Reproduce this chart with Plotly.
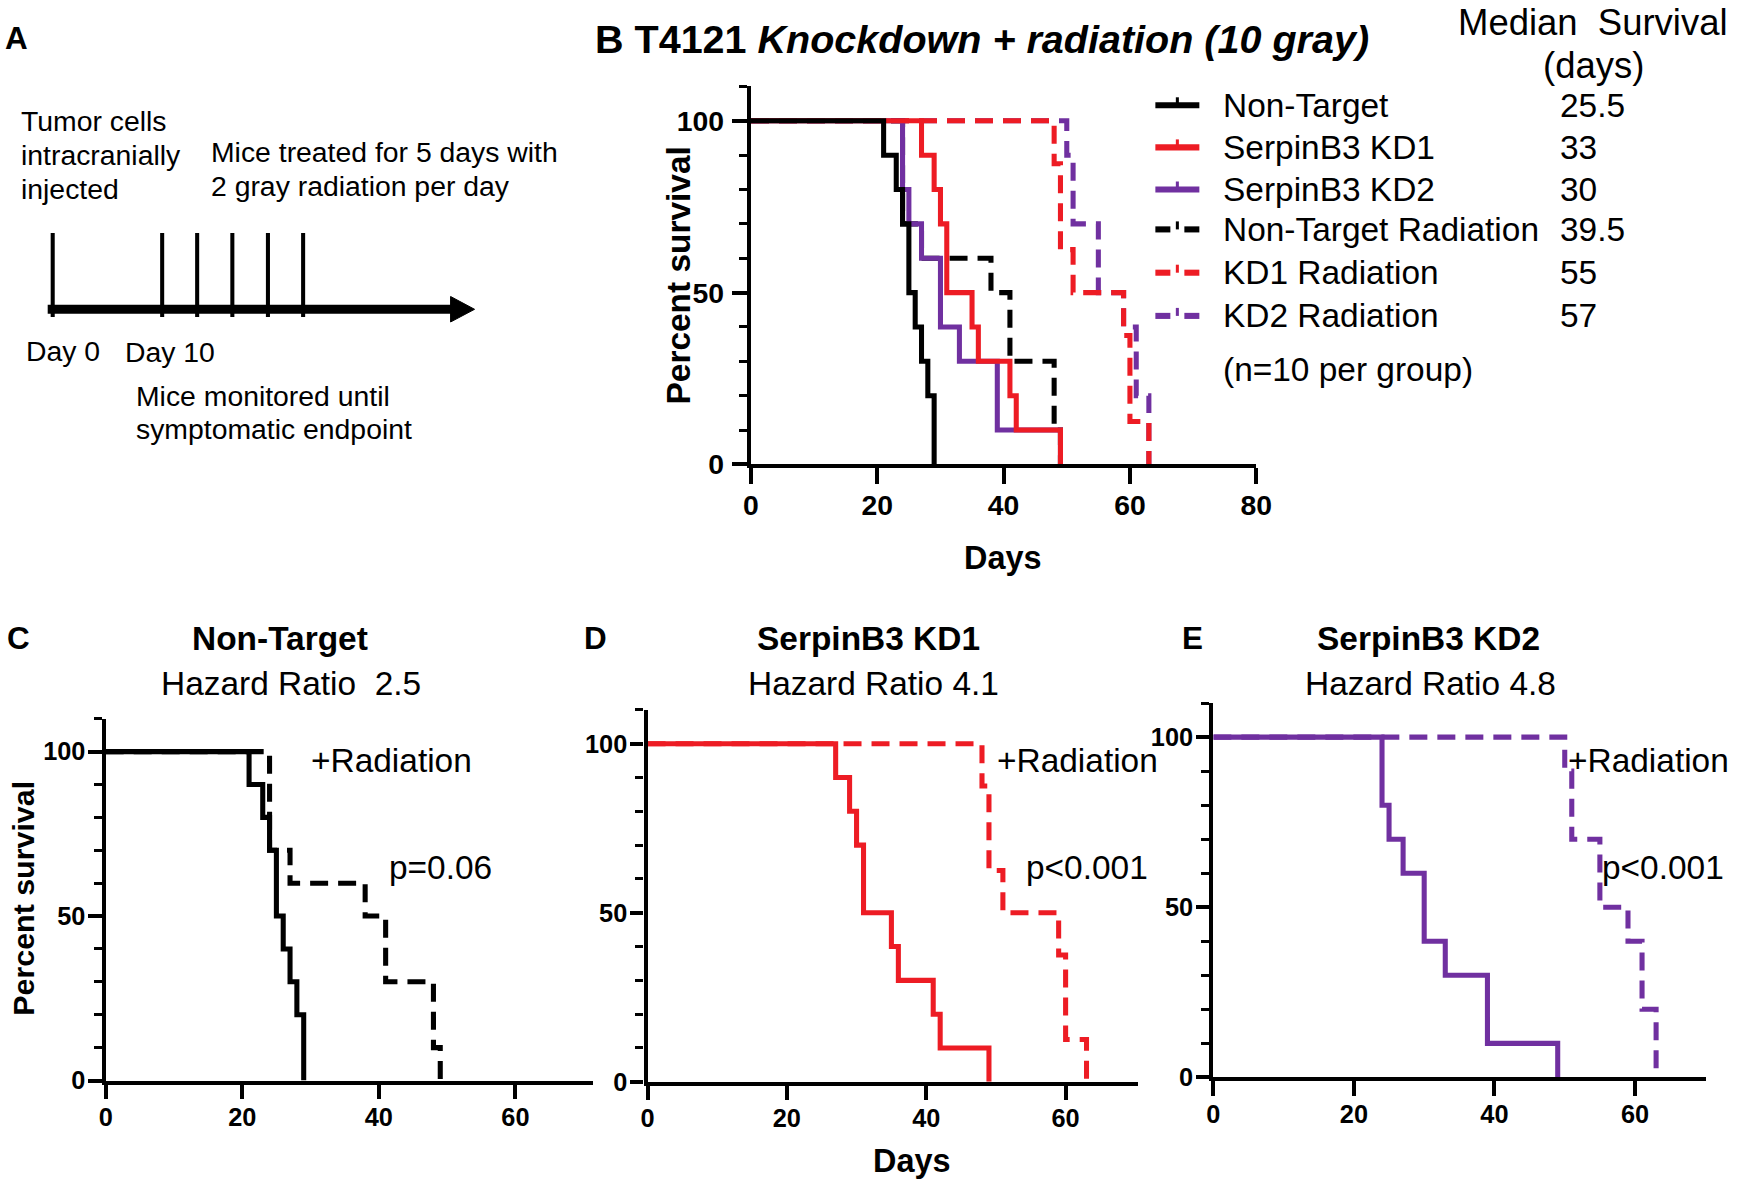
import plotly.graph_objects as go

# all positions below are in reference pixels (1738 x 1184); the figure itself
# is drawn slightly larger because the photographed page comes out ~1.3% smaller
REF_W, REF_H = 1738, 1184
K = 1200 / 1184
W, H = round(REF_W * K), 1200
SHIFT_X = 8.4
FONT = "Arial, Liberation Sans, sans-serif"
BLACK = "#000000"
RED = "#ED1C24"
PURPLE = "#7030A0"

# Kaplan-Meier data: day of each death and percent surviving after it
nt_days = [21, 23, 24, 25, 26, 27, 28, 29]
nt_surv = [90, 80, 70, 50, 40, 30, 20, 0]
kd1_days = [27, 29, 30, 31, 35, 36, 41, 42, 49]
kd1_surv = [90, 80, 70, 50, 40, 30, 20, 10, 0]
kd2_days = [24, 25, 27, 30, 33, 39, 49]
kd2_surv = [80, 70, 60, 40, 30, 10, 0]
ntr_days = [24, 27, 38, 41, 48, 49]
ntr_surv = [70, 60, 50, 30, 10, 0]
kd1r_days = [48, 49, 51, 59, 60, 63]
kd1r_surv = [87.5, 62.5, 50, 37.5, 12.5, 0]
kd2r_days = [50, 51, 55, 59, 61, 63]
kd2r_surv = [90, 70, 50, 40, 20, 0]

group_names = ["Non-Target", "SerpinB3 KD1", "SerpinB3 KD2",
               "Non-Target Radiation", "KD1 Radiation", "KD2 Radiation"]
median_survival = ["25.5", "33", "30", "39.5", "55", "57"]

panel_titles = ["Non-Target", "SerpinB3 KD1", "SerpinB3 KD2"]
hazard_text = ["Hazard Ratio\u00a0 2.5", "Hazard Ratio 4.1", "Hazard Ratio 4.8"]
p_values = ["p=0.06", "p<0.001", "p<0.001"]

x_ticks_b = [0, 20, 40, 60, 80]
x_ticks_small = [0, 20, 40, 60]
y_ticks = [0, 50, 100]

DASH = "%dpx,%dpx" % (round(18 * K), round(10 * K))
colors = [BLACK, RED, PURPLE, BLACK, RED, PURPLE]
dashes = ["solid", "solid", "solid", DASH, DASH, DASH]
all_days = [nt_days, kd1_days, kd2_days, ntr_days, kd1r_days, kd2r_days]
all_surv = [nt_surv, kd1_surv, kd2_surv, ntr_surv, kd1r_surv, kd2r_surv]


def px(x):
    return (x * K - SHIFT_X) / W


def py(y):
    return 1 - y / REF_H


def s(v):
    return v * K


fig = go.Figure()


def km(i, xa, ya):
    fig.add_trace(go.Scatter(
        x=[0] + all_days[i], y=[100] + all_surv[i], mode="lines",
        line=dict(color=colors[i], width=s(5), dash=dashes[i], shape="hv"),
        xaxis=xa, yaxis=ya, showlegend=False, hoverinfo="skip"))


# panel B, drawn bottom to top
for i in [5, 4, 3, 2, 1, 0]:
    km(i, "x", "y")
# panels C, D, E
for k, (a, b) in enumerate([(3, 0), (4, 1), (5, 2)]):
    km(a, "x%d" % (k + 2), "y%d" % (k + 2))
    km(b, "x%d" % (k + 2), "y%d" % (k + 2))


def xaxis(x0, x1, xmax, ticks, size, tlen, anchor):
    return dict(domain=[px(x0), px(x1)], range=[0, xmax], tickvals=ticks,
                showline=True, linewidth=s(4), linecolor=BLACK, ticks="outside",
                ticklen=s(tlen), tickwidth=s(4), tickcolor=BLACK, showgrid=False,
                zeroline=False, anchor=anchor, ticklabelstandoff=-3,
                tickfont=dict(family=FONT, size=s(size), color=BLACK, weight="bold"))


def yaxis(y0, y100, size, tlen, anchor, standoff):
    top = y100 - (y0 - y100) * 0.1
    return dict(domain=[py(y0), py(top)], range=[0, 110], tickvals=y_ticks,
                showline=True, linewidth=s(4), linecolor=BLACK, ticks="outside",
                ticklen=s(tlen), tickwidth=s(4), tickcolor=BLACK, showgrid=False,
                zeroline=False, anchor=anchor, ticklabelstandoff=standoff,
                minor=dict(tick0=0, dtick=10, ticks="outside", ticklen=s(8),
                           tickwidth=s(3), tickcolor=BLACK),
                tickfont=dict(family=FONT, size=s(size), color=BLACK, weight="bold"))


fig.update_layout(
    width=W, height=H, margin=dict(l=0, r=0, t=0, b=0),
    paper_bgcolor="white", plot_bgcolor="white", showlegend=False,
    xaxis=xaxis(751.5, 1256.9, 80, x_ticks_b, 28, 15, "y"),
    yaxis=yaxis(464.4, 120.8, 28, 15, "x", 2),
    xaxis2=xaxis(106, 593, 71.3, x_ticks_small, 25, 14, "y2"),
    yaxis2=yaxis(1080.5, 751.6, 25, 13, "x2", -2),
    xaxis3=xaxis(648, 1138.7, 70.4, x_ticks_small, 25, 14, "y3"),
    yaxis3=yaxis(1081.8, 743.7, 25, 13, "x3", -2),
    xaxis4=xaxis(1214, 1706.8, 70.1, x_ticks_small, 25, 14, "y4"),
    yaxis4=yaxis(1077.4, 737.1, 25, 13, "x4", -2),
)

ann = []


def text(x, y, t, size, bold=False, anchor="left", angle=0):
    if anchor == "left":
        x -= 3  # annotation box padding
    ann.append(dict(x=px(x), y=py(y), xref="paper", yref="paper", text=t,
                    showarrow=False, xanchor=anchor, yanchor="middle",
                    textangle=angle,
                    font=dict(family=FONT, size=s(size), color=BLACK,
                              weight="bold" if bold else "normal")))


def seg(x0, y0, x1, y1, color, width):
    shapes.append(dict(type="line", xref="paper", yref="paper",
                       x0=px(x0), x1=px(x1), y0=py(y0), y1=py(y1),
                       line=dict(color=color, width=s(width))))


shapes = []

# panel A: timeline schematic
text(17, 38.5, "A", 31, bold=True, anchor="center")
for t, y in zip(["Tumor cells", "intracranially", "injected"], [120.8, 155.2, 189.5]):
    text(22, y, t, 28)
for t, y in zip(["Mice treated for 5 days with", "2 gray radiation per day"], [151.9, 186.2]):
    text(212, y, t, 28)
text(27.5, 351, "Day 0", 28)
text(126, 352.5, "Day 10", 28)
for t, y in zip(["Mice monitored until", "symptomatic endpoint"], [395.5, 428.5]):
    text(137, y, t, 28)

for xv in [53, 162.5, 197.5, 232.7, 268.3, 303.5]:
    seg(xv, 233, xv, 317, BLACK, 4)
seg(48, 309.3, 455, 309.3, BLACK, 9)
shapes.append(dict(type="path", xref="paper", yref="paper",
                   path="M %f,%f L %f,%f L %f,%f Z" % (px(451), py(296.5), px(475), py(309.3), px(451), py(322)),
                   fillcolor=BLACK, line=dict(color=BLACK, width=1)))

# panel B titles and legend
ann.append(dict(x=px(593), y=py(38.8), xref="paper", yref="paper", showarrow=False,
                xanchor="left", yanchor="middle",
                text="<b>B T4121 <i>Knockdown + radiation (10 gray)</i></b>",
                font=dict(family=FONT, size=s(39), color=BLACK)))
text(1594, 23, "Median\u00a0 Survival", 36, anchor="center")
text(1594, 66, "(days)", 36, anchor="center")
text(678, 276, "Percent survival", 33, bold=True, anchor="center", angle=-90)
text(1004, 557.5, "Days", 32, bold=True, anchor="center")

row_y = [105.3, 147.4, 189.5, 229.4, 272.7, 315.9]
for i, y in enumerate(row_y):
    c = colors[i]
    if dashes[i] == "solid":
        seg(1156, y, 1200, y, c, 6)
    else:
        seg(1156, y, 1171, y, c, 6)
        seg(1185, y, 1200, y, c, 6)
    seg(1178, y - 8, 1178, y, c, 3)
    text(1224.7, y, group_names[i], 33)
    text(1561.5, y, median_survival[i], 33)
text(1224.7, 369, "(n=10 per group)", 33)

# panels C, D, E
letter_x = [19, 596, 1193]
title_x = [280, 869.5, 1429.5]
hr_x = [291, 873.8, 1431]
rad_x = [312, 998.5, 1570]
p_x = [390, 1027.5, 1604]
for k in range(3):
    text(letter_x[k], 638.5, "CDE"[k], 31, bold=True, anchor="center")
    text(title_x[k], 638.5, panel_titles[k], 33, bold=True, anchor="center")
    text(hr_x[k], 683.5, hazard_text[k], 33, anchor="center")
    text(rad_x[k], 760, "+Radiation", 33)
    text(p_x[k], 867.5, p_values[k], 33)
text(23, 898, "Percent survival", 30, bold=True, anchor="center", angle=-90)
text(913, 1161, "Days", 32, bold=True, anchor="center")

fig.update_layout(annotations=ann, shapes=shapes)
fig.write_html("out.html", config={"displayModeBar": False},
               post_script="document.body.style.margin='0px';")
